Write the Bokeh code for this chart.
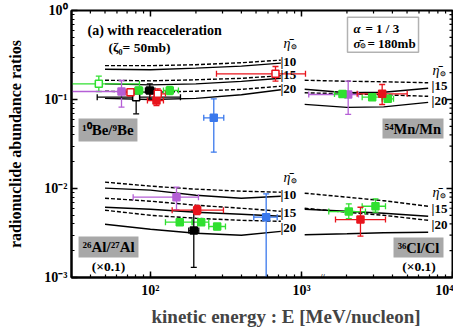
import math
from bokeh.plotting import figure
from bokeh.models import (Label, BoxAnnotation, CustomJSTickFormatter, ColumnDataSource, Title)
from bokeh.embed import file_html
from bokeh.resources import INLINE

# ---------------- model curves (ratio vs kinetic energy, MeV/nucleon) ----------------
E_low = [50, 100, 200, 400, 730]
be_d10 = [0.240, 0.240, 0.246, 0.259, 0.277]
be_s10 = [0.219, 0.216, 0.225, 0.237, 0.256]
be_d15 = [0.1645, 0.162, 0.1666, 0.173, 0.185]
be_s15 = [0.150, 0.146, 0.150, 0.160, 0.173]
be_d20 = [0.124, 0.1205, 0.124, 0.130, 0.141]
be_s20 = [0.103, 0.100, 0.103, 0.113, 0.1285]

al_d10 = [0.01179, 0.01063, 0.00983, 0.00933, 0.00909]
al_s10 = [0.01009, 0.00958, 0.00841, 0.00778, 0.00819]
al_d15 = [0.00778, 0.00720, 0.00649, 0.00600, 0.00555]
al_s15 = [0.00616, 0.00585, 0.00541, 0.00514, 0.00488]
al_d20 = [0.00570, 0.00500, 0.00463, 0.00439, 0.00428]
al_s20 = [0.00396, 0.00348, 0.00314, 0.00298, 0.00330]

E_high = [1050, 2000, 3500, 6900]
mn_d15 = [0.1645, 0.1603, 0.1582, 0.1542]
mn_s15 = [0.1302, 0.1189, 0.1205, 0.1337]
mn_d20 = [0.1189, 0.1159, 0.1129, 0.1086]
mn_s20 = [0.0882, 0.0816, 0.0827, 0.0929]
cl_d15 = [0.00886, 0.00799, 0.00729, 0.00632]
cl_s15 = [0.00585, 0.00555, 0.00527, 0.00488]
cl_d20 = [0.00600, 0.00541, 0.00500, 0.00439]
cl_s20 = [0.00302, 0.00310, 0.00318, 0.00322]

# ---------------- measurements ----------------
green_open_E = [45.5]
green_open_R = [0.150]
green_open_Elo = [20]
green_open_Ehi = [84.6]
green_open_Rlo = [0.123]
green_open_Rhi = [0.1827]

purple_E = [64.3, 2038, 148.7]
purple_R = [0.123, 0.1138, 0.00798]
purple_Elo = [20, 1117, 76.8]
purple_Ehi = [77.2, 2385, 207.9]
purple_Rlo = [0.0819, 0.0679, 0.00576]
purple_Rhi = [0.1635, 0.1606, 0.01034]

red_open_E = [73.7, 111.8, 672.8]
red_open_R = [0.1208, 0.1159, 0.1944]
red_open_Elo = [68.3, 100, 273.6]
red_open_Ehi = [79.6, 125.7, 1063]
red_open_Rlo = [0.1109, 0.1061, 0.1606]
red_open_Rhi = [0.1319, 0.1319, 0.2349]

black_open_E = [80.4]
black_open_R = [0.1061]
black_open_Elo = [44.4]
black_open_Ehi = [158]
black_open_Rlo = [0.0691]
black_open_Rhi = [0.1159]

green_E = [83.6, 134.2, 1868, 2939, 3728, 156.3, 216.7, 276.5, 2057, 3090]
green_R = [0.1263, 0.1263, 0.1153, 0.1061, 0.1018, 0.00418, 0.00418, 0.00374, 0.00551, 0.00632]
green_Elo = [78.7, 121.9, 1654, 2523, 3422, 125.7, 188.9, 243.3, 1516, 2523]
green_Ehi = [88.9, 153.2, 2111, 3422, 4068, 188.9, 243.3, 313.8, 2653, 3600]
green_Rlo = [0.1162, 0.1138, 0.1062, 0.0977, 0.0937, 0.00387, 0.00387, 0.00346, 0.00457, 0.00542]
green_Rhi = [0.1373, 0.140, 0.1252, 0.1152, 0.1106, 0.00452, 0.00452, 0.00404, 0.00673, 0.00766]

black_E = [99, 193.6]
black_R = [0.1263, 0.00337]
black_Elo = [92.6, 179.3]
black_Ehi = [107, 208.9]
black_Rlo = [0.1018, 0.0013]
black_Rhi = [0.150, 0.00566]

red_E = [109.6, 3422, 203.8, 2458]
red_R = [0.0974, 0.1159, 0.00571, 0.00448]
red_Elo = [95.5, 2338, 139.2, 1680]
red_Ehi = [121.9, 5012, 304.3, 3600]
red_Rlo = [0.0856, 0.0879, 0.0051, 0.00291]
red_Rhi = [0.1109, 0.1475, 0.00644, 0.00616]

blue_E = [262.6, 583.7]
blue_R = [0.0623, 0.00476]
blue_Elo = [225.4, 483.2]
blue_Ehi = [305.8, 690.5]
blue_Rlo = [0.02558, 0.0005]
blue_Rhi = [0.1018, 0.00872]

XR = (30, 1e4)
YR = (1e-3, 1)

GREEN = "#30e030"
PURPLE = "#b55fd6"
RED = "#e8141c"
BLUE = "#3a78ec"
BLACK = "black"
SERIF = "Liberation Serif"

p = figure(width=453, height=330, x_axis_type="log", y_axis_type="log",
           x_range=XR, y_range=YR, output_backend="svg", toolbar_location=None,
           min_border_left=71, min_border_right=1, min_border_top=10, min_border_bottom=53)
p.xgrid.visible = False
p.ygrid.visible = False
p.outline_line_color = "black"
p.outline_line_width = 2
p.background_fill_color = "white"
p.border_fill_color = "white"

sup_code = """
const e = Math.round(Math.log10(tick));
const sup = {'0':'\u2070','1':'\u00b9','2':'\u00b2','3':'\u00b3','4':'\u2074','5':'\u2075','6':'\u2076','7':'\u2077','8':'\u2078','9':'\u2079','-':'\u207b'};
return '10' + String(e).split('').map(c => sup[c]).join('');
"""
fmt = CustomJSTickFormatter(code=sup_code)


def style_axis(ax):
    ax.axis_line_width = 2
    ax.axis_line_color = "black"
    ax.major_tick_in = 6
    ax.major_tick_out = 0
    ax.minor_tick_in = 3
    ax.minor_tick_out = 0
    ax.major_tick_line_width = 1.5
    ax.minor_tick_line_width = 1.2
    ax.major_tick_line_color = "black"
    ax.minor_tick_line_color = "black"
    ax.major_label_text_font = SERIF
    ax.major_label_text_font_style = "bold"
    ax.major_label_text_font_size = "14px"
    ax.major_label_text_color = "black"


for ax in p.xaxis:
    style_axis(ax)
    ax.formatter = fmt
    ax.major_label_standoff = 5
for ax in p.yaxis:
    style_axis(ax)
    ax.formatter = fmt
    ax.major_label_standoff = 4
    ax.axis_label = "radionuclide abundance ratios"
    ax.axis_label_text_font = SERIF
    ax.axis_label_text_font_style = "bold"
    ax.axis_label_text_font_size = "16px"
    ax.axis_label_standoff = 17
    ax.axis_label_text_color = "black"

p.add_layout(Title(text="kinetic energy :  E [MeV/nucleon]", align="left", offset=80,
                   text_font=SERIF, text_font_style="bold", text_font_size="19px",
                   standoff=6), "below")

# inward ticks on the top and right frame edges (half of each dash is clipped by the frame)
decades_x = [100, 1000, 10000]
minor_x = [m * d for d in (10, 100, 1000) for m in range(2, 10) if XR[0] < m * d < XR[1]]
decades_y = [0.001, 0.01, 0.1, 1]
minor_y = [m * d for d in (0.001, 0.01, 0.1) for m in range(2, 10)]
p.scatter(decades_x, [YR[1]] * len(decades_x), marker="dash", angle=math.pi / 2, size=12,
          line_color="black", line_width=1.5)
p.scatter(minor_x, [YR[1]] * len(minor_x), marker="dash", angle=math.pi / 2, size=6,
          line_color="black", line_width=1.2)
p.scatter([XR[1]] * len(decades_y), decades_y, marker="dash", size=12,
          line_color="black", line_width=1.5)
p.scatter([XR[1]] * len(minor_y), minor_y, marker="dash", size=6,
          line_color="black", line_width=1.2)

# ---------------- curves ----------------
for ys in (be_d10, be_d15, be_d20, al_d10, al_d15, al_d20):
    p.line(E_low, ys, line_color="black", line_width=1.4, line_dash="4 2")
for ys in (be_s10, be_s15, be_s20, al_s10, al_s15, al_s20):
    p.line(E_low, ys, line_color="black", line_width=1.4)
for ys in (mn_d15, mn_d20, cl_d15, cl_d20):
    p.line(E_high, ys, line_color="black", line_width=1.4, line_dash="4 2")
for ys in (mn_s15, mn_s20, cl_s15, cl_s20):
    p.line(E_high, ys, line_color="black", line_width=1.4)

# ---------------- data points ----------------
series = [
    (green_open_E, green_open_R, green_open_Elo, green_open_Ehi, green_open_Rlo, green_open_Rhi, GREEN, False),
    (purple_E, purple_R, purple_Elo, purple_Ehi, purple_Rlo, purple_Rhi, PURPLE, True),
    (black_open_E, black_open_R, black_open_Elo, black_open_Ehi, black_open_Rlo, black_open_Rhi, BLACK, False),
    (green_E, green_R, green_Elo, green_Ehi, green_Rlo, green_Rhi, GREEN, True),
    (black_E, black_R, black_Elo, black_Ehi, black_Rlo, black_Rhi, BLACK, True),
    (red_E, red_R, red_Elo, red_Ehi, red_Rlo, red_Rhi, RED, True),
    (red_open_E, red_open_R, red_open_Elo, red_open_Ehi, red_open_Rlo, red_open_Rhi, RED, False),
    (blue_E, blue_R, blue_Elo, blue_Ehi, blue_Rlo, blue_Rhi, BLUE, True),
]


def inside(x, lo, hi):
    return lo < x < hi


for E, R, Elo, Ehi, Rlo, Rhi, col, filled in series:
    src = ColumnDataSource(dict(E=E, R=R, Elo=Elo, Ehi=Ehi, Rlo=Rlo, Rhi=Rhi))
    p.segment(x0="Elo", y0="R", x1="Ehi", y1="R", source=src, line_color=col, line_width=1.3)
    p.segment(x0="E", y0="Rlo", x1="E", y1="Rhi", source=src, line_color=col, line_width=1.3)
    vx, vy = [], []
    for xs in (Elo, Ehi):
        for x, y in zip(xs, R):
            if inside(x, *XR):
                vx.append(x)
                vy.append(y)
    p.scatter(vx, vy, marker="dash", angle=math.pi / 2, size=6, line_color=col, line_width=1.3)
    hx, hy = [], []
    for ys in (Rlo, Rhi):
        for x, y in zip(E, ys):
            if inside(y, *YR):
                hx.append(x)
                hy.append(y)
    p.scatter(hx, hy, marker="dash", size=6, line_color=col, line_width=1.3)

for E, R, Elo, Ehi, Rlo, Rhi, col, filled in series:
    p.scatter(E, R, marker="square", size=7,
              fill_color=col if filled else "white", line_color=col, line_width=1.5)


# ---------------- annotations ----------------
def lab(x, y, text, size="12px", style="bold", align="left", xo=0, yo=0, base="middle"):
    p.add_layout(Label(x=x, y=y, text=text, text_font=SERIF, text_font_style=style,
                       text_font_size=size, text_align=align, text_baseline=base,
                       x_offset=xo, y_offset=yo, text_color="black"))


lab(38.3, 0.596, "(a) with reacceleration", size="14px")
lab(52.7, 0.384, "(ζ₀= 50mb)", size="13.5px")

p.add_layout(BoxAnnotation(left=2017, right=5957, bottom=0.340, top=0.841,
                           fill_color="white", fill_alpha=1, line_color="black", line_width=1.5))
lab(2208, 0.623, "α", size="13px", style="bold italic")
lab(2208, 0.623, "= 1 / 3", size="13px", xo=12)
lab(2208, 0.429, "σ̄", size="13px", style="bold italic")
lab(2208, 0.429, "⊙", size="7px", xo=7, yo=-3)
lab(2208, 0.429, "= 180mb", size="13px", xo=14)

# grey name boxes
for l, r, b, t in ((33.4, 82.0, 0.0337, 0.0612), (3439, 8717, 0.0365, 0.0612),
                   (33.4, 83.3, 0.00168, 0.00289), (4068, 8717, 0.00168, 0.00281)):
    p.add_layout(BoxAnnotation(left=l, right=r, bottom=b, top=t, fill_color="#a8a8a8",
                               fill_alpha=1, line_color=None))
lab(52.3, 0.0454, "¹⁰Be/⁹Be", size="15px", align="center")
lab(5474, 0.0472, "⁵⁴Mn/Mn", size="14.5px", align="center")
lab(52.8, 0.0022, "²⁶Al/²⁷Al", size="15px", align="center")
lab(5955, 0.00217, "³⁶Cl/Cl", size="14.5px", align="center")
lab(52.8, 0.00133, "(×0.1)", size="13.5px", align="center")
lab(6000, 0.00133, "(×0.1)", size="13.5px", align="center")

# eta labels
for x, y in ((760, 0.426), (7370, 0.2118), (760, 0.0133), (7370, 0.00902)):
    lab(x, y, "η̄", size="14px", style="italic")
    lab(x, y, "⊙", size="7px", xo=8, yo=-4)

for x, y, t in ((726, 0.267, "|10"), (726, 0.191, "|15"), (726, 0.133, "|20"),
                (7262, 0.1437, "|15"), (7262, 0.0974, "|20"),
                (726, 0.00856, "|10"), (726, 0.00537, "|15"), (726, 0.00365, "|20"),
                (7262, 0.00596, "|15"), (7262, 0.00394, "|20")):
    lab(x, y, t, size="13px")

lab(1377, 0.001, "//", size="8px", align="center")

open("out.html", "w").write(file_html(p, INLINE))
